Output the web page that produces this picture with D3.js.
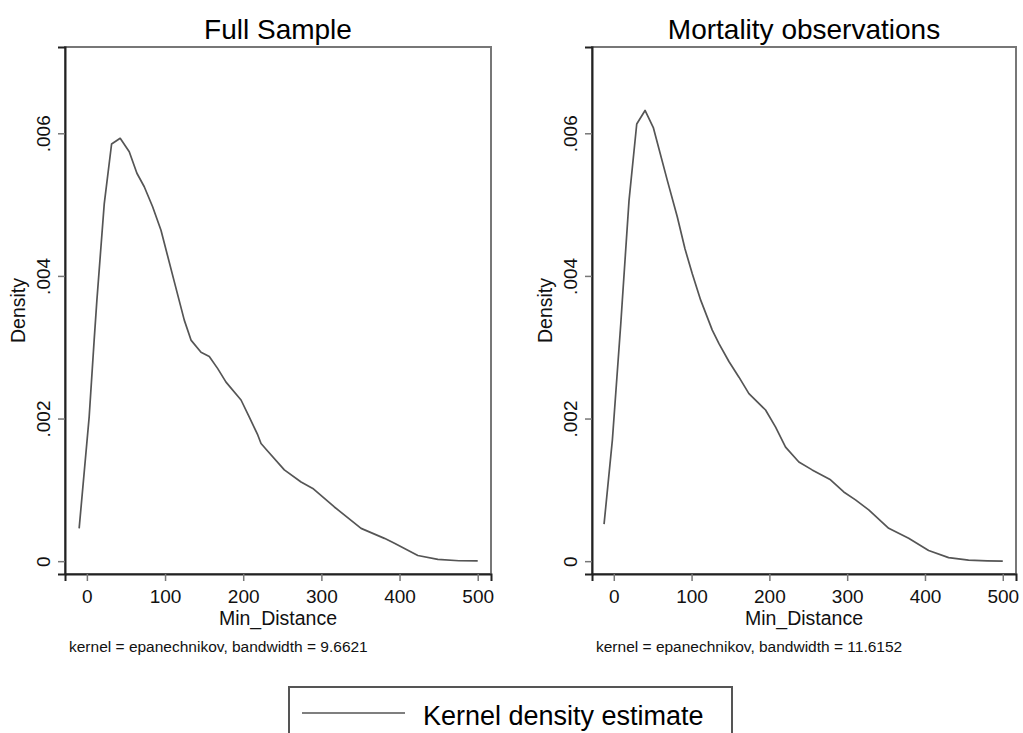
<!DOCTYPE html>
<html>
<head>
<meta charset="utf-8">
<script src="https://cdn.jsdelivr.net/npm/d3@7/dist/d3.min.js"></script>
<style>
  html, body { margin: 0; padding: 0; background: #fff; }
  svg { display: block; font-family: "Liberation Sans", Arial, Helvetica, sans-serif; }
</style>
</head>
<body>
<svg id="chart" width="1023" height="733"></svg>
<script>
// Kernel density estimates of Min_Distance (density values in units of 1e-3)
const fullX = [-9.9, 2.9, 9.3, 12.8, 22.2, 31.6, 42.6, 54.2, 64, 73.4, 84.1, 94.8, 111.8,
  124.6, 133.2, 146, 156.6, 167.4, 178, 197.2, 207.8, 218.6, 222.8, 229.2, 252.6, 274, 289,
  316.6, 350.8, 380.7, 393.5, 423.4, 449, 476, 500];
const fullY = [0.46, 2.02, 3.10, 3.66, 5.01, 5.85, 5.93, 5.74, 5.44, 5.25, 4.97, 4.64, 3.92,
  3.38, 3.10, 2.93, 2.87, 2.70, 2.51, 2.26, 2.02, 1.77, 1.65, 1.57, 1.28, 1.11, 1.02,
  0.76, 0.46, 0.32, 0.25, 0.08, 0.024, 0.006, 0.004];

const mortX = [-12.5, -1.8, 9.0, 11.0, 19.6, 29.5, 40.2, 50.8, 68.8, 81.6, 91.5, 100.9, 111.7,
  126.6, 135.2, 148, 160.9, 173.7, 195.1, 208, 220.8, 237.9, 255, 278.6, 295.6, 310.7,
  327.7, 353.4, 379, 404.7, 430.4, 456, 480, 500];
const mortY = [0.52, 1.70, 3.33, 3.66, 5.06, 6.13, 6.32, 6.08, 5.34, 4.83, 4.38, 4.03, 3.66,
  3.24, 3.05, 2.80, 2.58, 2.35, 2.12, 1.88, 1.60, 1.39, 1.28, 1.14, 0.97, 0.86,
  0.72, 0.46, 0.32, 0.15, 0.05, 0.014, 0.004, 0];

const panelTitles = ["Full Sample", "Mortality observations"];
const bandwidths = ["9.6621", "11.6152"];
const xTicks = [0, 100, 200, 300, 400, 500];
const yTicks = [0, 0.002, 0.004, 0.006];
const yTickLabels = ["0", ".002", ".004", ".006"];
const xTitle = "Min_Distance";
const yTitle = "Density";
const legendLabel = "Kernel density estimate";

const svg = d3.select("#chart");
const lineColor = "#555";

const panels = [
  { title: panelTitles[0], xs: fullX, ys: fullY, bw: bandwidths[0], left: 65, right: 491 },
  { title: panelTitles[1], xs: mortX, ys: mortY, bw: bandwidths[1], left: 592, right: 1016 }
];
const plotTop = 47, plotBottom = 574;

panels.forEach(p => {
  const x = d3.scaleLinear().domain([-28, 517]).range([p.left, p.right]);
  const y = d3.scaleLinear().domain([-0.00018, 0.00721]).range([plotBottom, plotTop]);
  const g = svg.append("g");

  // plot region outline
  g.append("rect")
    .attr("x", p.left).attr("y", plotTop)
    .attr("width", p.right - p.left).attr("height", plotBottom - plotTop)
    .attr("fill", "none").attr("stroke", "#777").attr("stroke-width", 2);

  // x axis
  const xAxis = d3.axisBottom(x).tickValues(xTicks).tickSize(7).tickPadding(9).tickFormat(d3.format("d"));
  const gx = g.append("g").attr("transform", `translate(0,${plotBottom})`).call(xAxis);
  gx.select(".domain").attr("stroke", "#222").attr("stroke-width", 2);
  gx.selectAll(".tick line").attr("stroke", "#777").attr("stroke-width", 1.5);
  gx.selectAll(".tick text").attr("font-size", 19).attr("fill", "#111")
    .attr("font-family", "Liberation Sans, Arial, sans-serif");

  // y axis with rotated labels
  const yAxis = d3.axisLeft(y).tickValues(yTicks).tickSize(7)
    .tickFormat((d, i) => yTickLabels[i]);
  const gy = g.append("g").attr("transform", `translate(${p.left},0)`).call(yAxis);
  gy.select(".domain").attr("stroke", "#222").attr("stroke-width", 2);
  gy.selectAll(".tick line").attr("stroke", "#777").attr("stroke-width", 1.5);
  gy.selectAll(".tick text")
    .attr("font-size", 19).attr("fill", "#111")
    .attr("font-family", "Liberation Sans, Arial, sans-serif")
    .attr("x", null).attr("dy", null)
    .attr("text-anchor", "middle")
    .attr("transform", "translate(-15,0) rotate(-90)")
    .attr("y", 0);

  // density curve
  const pts = p.xs.map((v, i) => [v, p.ys[i] / 1000]);
  g.append("path")
    .datum(pts)
    .attr("fill", "none")
    .attr("stroke", lineColor)
    .attr("stroke-width", 1.7)
    .attr("stroke-linejoin", "round")
    .attr("d", d3.line().x(d => x(d[0])).y(d => y(d[1])));

  const cx = (p.left + p.right) / 2;
  // title
  g.append("text").attr("x", cx).attr("y", 39)
    .attr("text-anchor", "middle").attr("font-size", 28).attr("fill", "#000")
    .text(p.title);
  // axis titles
  g.append("text").attr("x", cx).attr("y", 625)
    .attr("text-anchor", "middle").attr("font-size", 19.5).attr("fill", "#111")
    .text(xTitle);
  g.append("text")
    .attr("transform", `translate(${p.left - 40},${(plotTop + plotBottom) / 2}) rotate(-90)`)
    .attr("text-anchor", "middle").attr("font-size", 19.5).attr("fill", "#111")
    .text(yTitle);
  // note
  g.append("text").attr("x", p.left + 4).attr("y", 651.5)
    .attr("font-size", 15.5).attr("fill", "#111")
    .text(`kernel = epanechnikov, bandwidth = ${p.bw}`);
});

// legend
const lg = svg.append("g");
lg.append("rect").attr("x", 289).attr("y", 687).attr("width", 443).attr("height", 70)
  .attr("fill", "#fff").attr("stroke", "#555").attr("stroke-width", 2);
lg.append("line").attr("x1", 302).attr("x2", 405).attr("y1", 713).attr("y2", 713)
  .attr("stroke", lineColor).attr("stroke-width", 1.7);
lg.append("text").attr("x", 423).attr("y", 725).attr("font-size", 27).attr("fill", "#000")
  .text(legendLabel);
</script>
</body>
</html>
